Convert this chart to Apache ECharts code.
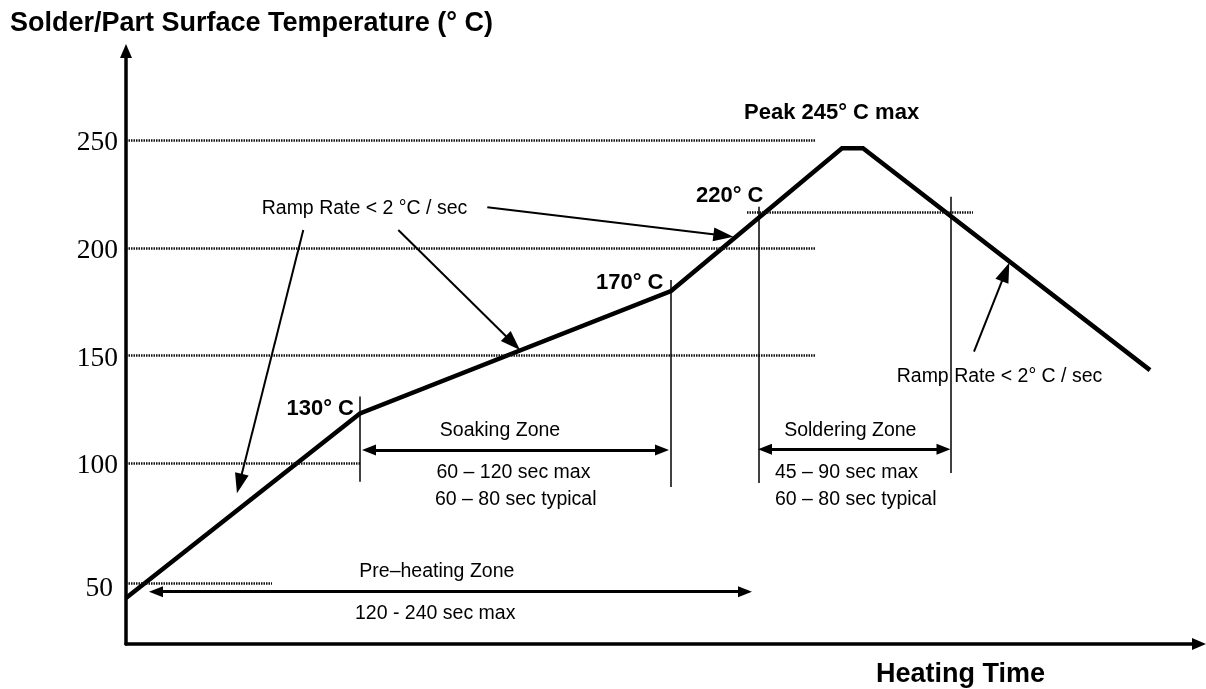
<!DOCTYPE html>
<html><head><meta charset="utf-8">
<script src="https://cdn.jsdelivr.net/npm/echarts@6/dist/echarts.min.js"></script>
<style>html,body{margin:0;padding:0;background:#fff}#c{width:1206px;height:689px}</style>
</head><body><div id="c"></div>
<script>
// ---- data (abstract time units, temperature in °C as drawn) ----
const profileTime = [0, 234, 545, 716, 737, 1024];
const profileTemp = [37.4, 123.1, 179.9, 246.2, 246.2, 143.2];
const tickLabels = ['250', '200', '150', '100', '50'];
const tickTemps = [250, 200, 150, 100, 44.2];
const zoneNames = ['Soaking Zone', 'Soldering Zone', 'Pre–heating Zone'];
const zoneLimits = ['60 – 120 sec max', '45 – 90 sec max', '120 - 240 sec max'];
const zoneTypical = ['60 – 80 sec typical', '60 – 80 sec typical'];
const pointLabels = ['130° C', '170° C', '220° C', 'Peak 245° C max'];
const rampLabels = ['Ramp Rate < 2 °C / sec', 'Ramp Rate < 2° C / sec'];
const titleText = 'Solder/Part Surface Temperature (° C)';
const xName = 'Heating Time';

const SANS = '"Liberation Sans", Arial, Helvetica, sans-serif';
const SERIF = '"Liberation Serif", "Times New Roman", serif';

function t(text, x, y, align, extra) {
  return { value: [x, y], label: Object.assign({ formatter: text, align: align, color: '#000',
    fontFamily: SANS, fontSize: 19.5, fontWeight: 'normal' }, extra || {}) };
}
function seg(a, b) { return [{ coord: a }, { coord: b }]; }

const bold = { fontWeight: 'bold', fontSize: 22 };

const option = {
  animation: false,
  backgroundColor: '#fff',
  title: [
    { text: titleText, left: 10, top: 10, padding: 0,
      textStyle: { fontFamily: SANS, fontWeight: 'bold', fontSize: 27, color: '#000' } },
    { text: xName, left: 876, top: 661, padding: 0,
      textStyle: { fontFamily: SANS, fontWeight: 'bold', fontSize: 27, color: '#000' } }
  ],
  grid: { left: 126, right: 7, top: 51, bottom: 45 },
  xAxis: {
    type: 'value', min: 0, max: 1073,
    axisLine: { show: true, onZero: false, symbol: ['none', 'triangle'], symbolSize: [12, 14],
      lineStyle: { color: '#000', width: 3.5 } },
    axisTick: { show: false }, axisLabel: { show: false }, splitLine: { show: false }
  },
  yAxis: {
    type: 'value', min: 16, max: 291.4,
    axisLine: { show: true, onZero: false, symbol: ['none', 'triangle'], symbolSize: [12, 14],
      lineStyle: { color: '#000', width: 3.5 } },
    axisTick: { show: false }, axisLabel: { show: false }, splitLine: { show: false }
  },
  series: [
    { // dotted level lines
      type: 'line', data: [], silent: true,
      markLine: { silent: true, symbol: 'none', label: { show: false },
        lineStyle: { color: '#111', width: 2.5, type: [1.5, 1] },
        data: [
          seg([0, tickTemps[0]], [689, tickTemps[0]]),
          seg([0, tickTemps[1]], [689, tickTemps[1]]),
          seg([0, tickTemps[2]], [689, tickTemps[2]]),
          seg([0, tickTemps[3]], [235, tickTemps[3]]),
          seg([0, tickTemps[4]], [146, tickTemps[4]]),
          seg([621, 216.3], [847, 216.3])
        ] }
    },
    { // thin vertical dividers
      type: 'line', data: [], silent: true,
      markLine: { silent: true, symbol: 'none', label: { show: false },
        lineStyle: { color: '#000', width: 1.5, type: 'solid' },
        data: [
          seg([234, 130.9], [234, 91.4]),
          seg([545, 185.0], [545, 88.9]),
          seg([633, 219.1], [633, 90.8]),
          seg([824.5, 223.7], [824.5, 95.4])
        ] }
    },
    { // double-headed zone arrows
      type: 'line', data: [], silent: true,
      markLine: { silent: true, symbol: ['triangle', 'triangle'], symbolSize: [11, 14], label: { show: false },
        lineStyle: { color: '#000', width: 3, type: 'solid' },
        itemStyle: { color: '#000' },
        data: [
          seg([243, 106.1], [536, 106.1]),
          seg([639, 106.4], [817.5, 106.4]),
          seg([30, 40.3], [619, 40.3])
        ] }
    },
    { // pointer arrows
      type: 'line', data: [], silent: true,
      markLine: { silent: true, symbol: ['none', 'triangle'], symbolSize: [14, 20], label: { show: false },
        lineStyle: { color: '#000', width: 2, type: 'solid' },
        itemStyle: { color: '#000' },
        data: [
          seg([177.3, 208.3], [113.4, 90.5]),
          seg([272.3, 208.3], [386.9, 155.8]),
          seg([361.3, 218.8], [597.4, 205.7]),
          seg([848, 151.8], [879.6, 188.8])
        ] }
    },
    { // temperature profile
      type: 'line', name: 'Profile', symbol: 'none', silent: true, z: 4,
      data: profileTime.map((x, i) => [x, profileTemp[i]]),
      lineStyle: { color: '#000', width: 4.5, join: 'miter' }
    },
    { // y tick labels
      type: 'scatter', symbolSize: 0, clip: false, silent: true, z: 6,
      itemStyle: { opacity: 1 },
      label: { show: true, position: [0, 0], verticalAlign: 'middle', align: 'right',
        color: '#000', fontFamily: SERIF, fontSize: 27.5 },
      data: tickTemps.map((v, i) => ({ value: [-8, v], label: { formatter: tickLabels[i],
        color: '#000', offset: i === 4 ? [-5, 6] : [0, 3] } }))
    },
    { // annotation texts
      type: 'scatter', symbolSize: 0, clip: false, silent: true, z: 6,
      itemStyle: { opacity: 1 },
      label: { show: true, position: [0, 0], verticalAlign: 'middle', color: '#000',
        fontFamily: SANS, fontSize: 19.5 },
      data: [
        t(zoneNames[0], 374, 115.1, 'center'),
        t(zoneLimits[0], 310.5, 95.5, 'left'),
        t(zoneTypical[0], 309, 83.2, 'left'),
        t(zoneNames[1], 724.3, 115.1, 'center'),
        t(zoneLimits[1], 649, 95.5, 'left'),
        t(zoneTypical[1], 649, 83.2, 'left'),
        t(zoneNames[2], 233.3, 49.6, 'left'),
        t(zoneLimits[2], 229, 30.3, 'left'),
        t(pointLabels[0], 228, 125.1, 'right', bold),
        t(pointLabels[1], 470, 183.8, 'left', bold),
        t(pointLabels[2], 570, 224.1, 'left', bold),
        t(pointLabels[3], 618, 262.5, 'left', bold),
        t(rampLabels[0], 135.7, 218.4, 'left'),
        t(rampLabels[1], 770.7, 140.1, 'left')
      ]
    }
  ]
};

const chart = echarts.init(document.getElementById('c'), null, { renderer: 'canvas' });
chart.setOption(option);
</script>
</body></html>
